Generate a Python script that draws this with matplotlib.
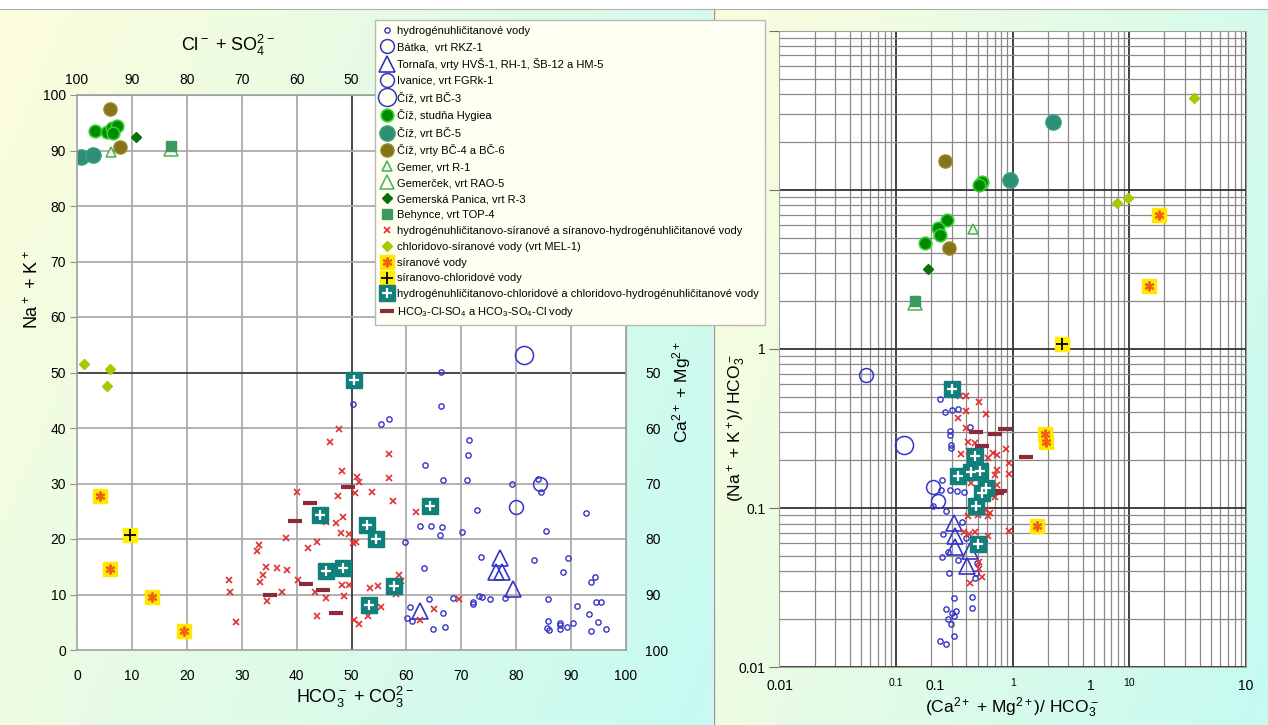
import numpy as np
import matplotlib.pyplot as plt
from matplotlib.lines import Line2D
from matplotlib.transforms import blended_transform_factory

plt.rcParams['font.family'] = ['Liberation Sans', 'DejaVu Sans']
plt.rcParams['mathtext.fontset'] = 'custom'
plt.rcParams['mathtext.rm'] = 'Liberation Sans'
plt.rcParams['mathtext.it'] = 'Liberation Sans:italic'

# ---- left diagram: x = HCO3 + CO3 (%), y = Na + K (%) ----
hco3_left = [(66.3, 50.1), (50.2, 44.4), (55.4, 40.8), (56.8, 41.6), (66.3, 44.0), (71.4, 37.8),
             (71.2, 35.2), (63.4, 33.3), (66.6, 30.6), (71.0, 30.6), (79.3, 30.0), (83.9, 30.8),
             (84.5, 28.4), (72.9, 25.2), (92.7, 24.7), (62.5, 22.4), (64.5, 22.4), (66.5, 22.2),
             (66.1, 20.8), (70.1, 21.2), (85.5, 21.5), (59.8, 19.5), (73.6, 16.7), (83.3, 16.2),
             (89.4, 16.5), (88.6, 14.1), (94.3, 13.1), (93.7, 12.3), (63.2, 14.7), (64.2, 9.2),
             (68.4, 9.4), (73.3, 9.8), (73.8, 9.6), (75.2, 9.1), (72.1, 8.6), (72.1, 8.2),
             (77.9, 9.4), (60.7, 7.7), (66.6, 6.7), (60.2, 5.7), (61.0, 5.3), (64.9, 3.7),
             (67.0, 4.2), (85.8, 9.1), (91.1, 8.0), (94.6, 8.6), (95.5, 8.6), (93.2, 6.4),
             (94.9, 5.1), (85.8, 5.3), (87.9, 4.8), (87.9, 4.5), (90.4, 4.8), (85.6, 3.9),
             (85.9, 3.6), (87.9, 3.8), (89.2, 4.1), (93.7, 3.5), (96.4, 3.7)]
batka_left = [(84.3, 30.0)]
tornala_left = [(77.0, 16.5), (76.3, 14.0), (77.5, 14.0), (79.5, 11.0), (62.5, 7.0)]
ivanice_left = [(79.9, 25.7)]
bc3_left = [(81.5, 53.2)]
hygiea_left = [(3.3, 93.6), (5.4, 93.4), (6.3, 94.0), (7.2, 94.4), (6.6, 93.1)]
bc5_left = [(0.8, 88.9), (3.0, 89.2)]
bc46_left = [(6.0, 97.4), (7.8, 90.7)]
gemer_left = [(6.2, 89.8)]
gemercek_left = [(17.1, 90.3)]
panica_left = [(10.7, 92.5)]
behynce_left = [(17.1, 90.8)]
so4mix_left = [(47.7, 39.9), (46.1, 37.4), (56.8, 35.3), (48.2, 32.3), (51.0, 31.2), (51.3, 30.3),
               (56.8, 31.0), (40.1, 28.5), (47.5, 27.8), (50.7, 28.2), (53.7, 28.5), (57.5, 26.9),
               (48.4, 24.0), (45.4, 23.0), (47.2, 22.8), (48.1, 21.0), (49.5, 20.9), (50.2, 19.2),
               (50.8, 19.4), (38.1, 20.1), (43.7, 19.5), (33.1, 19.0), (32.7, 17.9), (42.1, 18.3),
               (34.4, 14.9), (36.4, 14.7), (38.3, 14.5), (33.8, 13.6), (33.4, 12.3), (27.7, 12.6),
               (27.9, 10.4), (40.2, 12.6), (37.4, 10.4), (43.3, 10.4), (45.4, 9.4), (34.6, 8.9),
               (48.2, 11.7), (49.5, 11.7), (48.6, 9.8), (29.0, 5.1), (43.7, 6.2), (50.4, 5.4),
               (51.3, 4.6), (53.0, 6.1), (55.4, 7.7), (53.4, 11.2), (54.9, 11.5), (58.7, 13.5),
               (59.0, 12.5), (58.1, 10.1), (61.8, 24.8), (69.5, 9.1), (65.0, 7.4), (62.4, 5.4)]
clso4_left = [(1.3, 51.5), (6.0, 50.6), (5.4, 47.6)]
so4_left = [(4.1, 27.8), (6.0, 14.6), (13.6, 9.6), (19.5, 3.4)]
so4cl_left = [(9.6, 20.7)]
hco3cl_left = [(50.4, 48.6), (44.2, 24.4), (52.8, 22.5), (54.5, 20.0), (45.4, 14.2), (48.5, 14.8),
               (57.7, 11.5), (53.1, 8.1), (64.3, 25.9)]
mixed_left = [(49.3, 29.3), (42.4, 26.4), (39.7, 23.2), (41.8, 11.9), (44.8, 10.9), (35.1, 9.9),
              (47.1, 6.7)]

# ---- right diagram: x = (Ca + Mg)/HCO3, y = (Na + K)/HCO3 ----
hco3_right = [(0.236, 0.484), (0.262, 0.404), (0.301, 0.413), (0.341, 0.42), (0.29, 0.306),
              (0.29, 0.29), (0.427, 0.325), (0.295, 0.249), (0.297, 0.24), (0.245, 0.15),
              (0.244, 0.13), (0.292, 0.13), (0.331, 0.128), (0.379, 0.126), (0.209, 0.103),
              (0.267, 0.096), (0.365, 0.082), (0.25, 0.0687), (0.398, 0.0646), (0.563, 0.0624),
              (0.281, 0.0532), (0.246, 0.0495), (0.337, 0.0472), (0.49, 0.045), (0.485, 0.0393),
              (0.285, 0.0389), (0.47, 0.0362), (0.316, 0.0271), (0.451, 0.0275), (0.451, 0.0235),
              (0.27, 0.0231), (0.301, 0.022), (0.325, 0.0226), (0.312, 0.021), (0.277, 0.02),
              (0.295, 0.0187), (0.312, 0.0157), (0.236, 0.0146), (0.267, 0.014)]
batka_right = [(0.209, 0.136), (0.0557, 0.69)]
tornala_right = [(0.312, 0.081), (0.318, 0.0667), (0.318, 0.057), (0.427, 0.0537), (0.405, 0.0432)]
ivanice_right = [(0.23, 0.111)]
bc3_right = [(0.117, 0.249)]
hygiea_right = [(0.546, 11.2), (0.512, 10.8), (0.274, 6.46), (0.229, 5.77), (0.238, 5.17),
                (0.178, 4.65)]
bc5_right = [(2.20, 26.7), (0.946, 11.5)]
bc46_right = [(0.262, 15.2), (0.284, 4.29)]
gemer_right = [(0.452, 5.64)]
gemercek_right = [(0.145, 1.95)]
panica_right = [(0.189, 3.19)]
behynce_right = [(0.145, 2.0)]
so4mix_right = [(0.353, 0.506), (0.394, 0.506), (0.51, 0.464), (0.40, 0.409), (0.595, 0.39),
                (0.341, 0.367), (0.398, 0.317), (0.414, 0.261), (0.47, 0.257), (0.358, 0.219),
                (0.42, 0.229), (0.612, 0.208), (0.68, 0.221), (0.73, 0.215), (0.87, 0.235),
                (0.92, 0.193), (0.48, 0.19), (0.55, 0.182), (0.73, 0.173), (0.70, 0.161),
                (0.92, 0.164), (0.44, 0.143), (0.73, 0.14), (0.71, 0.118), (0.595, 0.097),
                (0.64, 0.0935), (0.414, 0.0895), (0.5, 0.091), (0.61, 0.0887), (0.379, 0.0711),
                (0.42, 0.0687), (0.47, 0.0711), (0.61, 0.0667), (0.92, 0.0718), (0.51, 0.0456),
                (0.51, 0.0413), (0.55, 0.0368), (0.427, 0.034)]
clso4_right = [(35.6, 37.5), (7.86, 8.28), (9.82, 8.91)]
so4_right = [(18.1, 6.94), (14.7, 2.48), (1.90, 0.292), (1.92, 0.262), (1.60, 0.0773)]
so4cl_right = [(2.67, 1.08)]
hco3cl_right = [(0.301, 0.557), (0.47, 0.212), (0.341, 0.16), (0.44, 0.168), (0.52, 0.172),
                (0.595, 0.133), (0.55, 0.125), (0.48, 0.103), (0.5, 0.0593)]
mixed_right = [(0.48, 0.299), (0.71, 0.291), (0.86, 0.316), (0.55, 0.246), (1.30, 0.21),
               (0.78, 0.129), (0.74, 0.124)]

left_ticks = list(range(0, 101, 10))
top_ticks = [100, 90, 80, 70, 60, 50]
right_ticks = [50, 60, 70, 80, 90, 100]
log_ticks = [0.01, 0.1, 1, 10, 100]

BLUE = '#3434c8'
styles = {
    'hco3': [dict(marker='o', ms=3.8, mfc='none', mec=BLUE, mew=1.0)],
    'batka': [dict(marker='o', ms=10, mfc='none', mec=BLUE, mew=1.1)],
    'tornala': [dict(marker='^', ms=11, mfc='none', mec=BLUE, mew=1.2)],
    'ivanice': [dict(marker='o', ms=10, mfc='none', mec=BLUE, mew=1.1)],
    'bc3': [dict(marker='o', ms=13, mfc='none', mec=BLUE, mew=1.1)],
    'hygiea': [dict(marker='o', ms=9, mfc='#008a00', mec='#33d033', mew=1.2)],
    'bc5': [dict(marker='o', ms=11, mfc='#2f8f76', mec='#3aa080', mew=1.0)],
    'bc46': [dict(marker='o', ms=9.5, mfc='#857518', mec='#9a8a30', mew=1.0)],
    'gemer': [dict(marker='^', ms=7.5, mfc='#eef8e8', mec='#4caf50', mew=1.1)],
    'gemercek': [dict(marker='^', ms=10, mfc='none', mec='#4caf50', mew=1.1)],
    'panica': [dict(marker='D', ms=5, mfc='#0a700a', mec='#0a700a')],
    'behynce': [dict(marker='s', ms=7.5, mfc='#3c9a60', mec='#3c9a60')],
    'so4mix': [dict(marker='x', ms=4, mec='#e03030', mew=1.2)],
    'clso4': [dict(marker='D', ms=5.5, mfc='#a8c800', mec='#a8c800')],
    'so4': [dict(marker='s', ms=9.5, mfc='#ffe800', mec='#ffe800'),
            dict(marker=(6, 2, 0), ms=7, mec='#f06010', mew=1.5)],
    'so4cl': [dict(marker='s', ms=10.5, mfc='#ffee00', mec='#ffee00'),
              dict(marker='+', ms=8, mec='black', mew=1.3)],
    'hco3cl': [dict(marker='s', ms=11, mfc='#12807a', mec='#12807a'),
               dict(marker='+', ms=7, mec='white', mew=1.6)],
    'mixed': [dict(marker='_', ms=10, mec='#8a2a3a', mew=3)],
}

labels = {
    'hco3': 'hydrogénuhličitanové vody',
    'batka': 'Bátka,  vrt RKZ-1',
    'tornala': 'Tornaľa, vrty HVŠ-1, RH-1, ŠB-12 a HM-5',
    'ivanice': 'Ivanice, vrt FGRk-1',
    'bc3': 'Číž, vrt BČ-3',
    'hygiea': 'Číž, studňa Hygiea',
    'bc5': 'Číž, vrt BČ-5',
    'bc46': 'Číž, vrty BČ-4 a BČ-6',
    'gemer': 'Gemer, vrt R-1',
    'gemercek': 'Gemerček, vrt RAO-5',
    'panica': 'Gemerská Panica, vrt R-3',
    'behynce': 'Behynce, vrt TOP-4',
    'so4mix': 'hydrogénuhličitanovo-síranové a síranovo-hydrogénuhličitanové vody',
    'clso4': 'chloridovo-síranové vody (vrt MEL-1)',
    'so4': 'síranové vody',
    'so4cl': 'síranovo-chloridové vody',
    'hco3cl': 'hydrogénuhličitanovo-chloridové a chloridovo-hydrogénuhličitanové vody',
    'mixed': 'HCO$_3$-Cl-SO$_4$ a HCO$_3$-SO$_4$-Cl vody',
}

left_data = {'hco3': hco3_left, 'batka': batka_left, 'tornala': tornala_left,
             'ivanice': ivanice_left, 'bc3': bc3_left, 'hygiea': hygiea_left, 'bc5': bc5_left,
             'bc46': bc46_left, 'gemer': gemer_left, 'gemercek': gemercek_left,
             'panica': panica_left, 'behynce': behynce_left, 'so4mix': so4mix_left,
             'clso4': clso4_left, 'so4': so4_left, 'so4cl': so4cl_left,
             'hco3cl': hco3cl_left, 'mixed': mixed_left}
right_data = {'hco3': hco3_right, 'batka': batka_right, 'tornala': tornala_right,
              'ivanice': ivanice_right, 'bc3': bc3_right, 'hygiea': hygiea_right,
              'bc5': bc5_right, 'bc46': bc46_right, 'gemer': gemer_right,
              'gemercek': gemercek_right, 'panica': panica_right, 'behynce': behynce_right,
              'so4mix': so4mix_right, 'clso4': clso4_right, 'so4': so4_right,
              'so4cl': so4cl_right, 'hco3cl': hco3cl_right, 'mixed': mixed_right}

draw_order = ['hco3', 'batka', 'tornala', 'ivanice', 'bc3', 'so4mix', 'mixed', 'hco3cl',
              'clso4', 'so4', 'so4cl', 'bc5', 'bc46', 'hygiea', 'gemercek', 'behynce',
              'gemer', 'panica']

W, H = 1268, 725
fig = plt.figure(figsize=(W / 100, H / 100), dpi=100)

# background gradient, two panels
yy, xx = np.mgrid[0:H, 0:W].astype(float)
c0 = np.array([253, 253, 220]) / 255
c1 = np.array([198, 250, 242]) / 255
img = np.ones((H, W, 3))
for x0, x1 in [(0, 713), (714, W)]:
    m = (xx >= x0) & (xx < x1)
    t = np.clip(0.72 * (xx - x0) / (x1 - x0) + 0.3 * yy / H, 0, 1)
    for k in range(3):
        img[..., k] = np.where(m, (1 - t) * c0[k] + t * c1[k], img[..., k])
img[:9] = 1.0
bg = fig.add_axes([0, 0, 1, 1], zorder=-1)
bg.imshow(img, extent=(0, W, H, 0), aspect='auto', interpolation='bilinear')
bg.plot([713.5, 713.5], [9, H], color='#9a9a9a', lw=1)
bg.plot([0, W], [9, 9], color='#b0b0b0', lw=0.8)
bg.set_xlim(0, W)
bg.set_ylim(H, 0)
bg.axis('off')


def draw(ax, key, pts):
    a = np.array(pts)
    for st in styles[key]:
        ax.plot(a[:, 0], a[:, 1], linestyle='none', **st)


# ---- left axes ----
ax1 = fig.add_axes([77 / W, 1 - 650 / H, 549 / W, 555 / H])
ax1.set_facecolor('white')
ax1.set_xlim(0, 100)
ax1.set_ylim(0, 100)
ax1.set_xticks(left_ticks)
ax1.set_yticks(left_ticks)
for v in left_ticks[1:-1]:
    c = '#3a3a3a' if v == 50 else '#ababab'
    ax1.axvline(v, color=c, lw=1.3, zorder=0.5)
    ax1.axhline(v, color=c, lw=1.3, zorder=0.5)
for s in ax1.spines.values():
    s.set_color('#a0a0a0')
    s.set_linewidth(1.2)
ax1.tick_params(axis='y', length=5, color='#909090', labelsize=10, pad=3)
ax1.tick_params(axis='x', length=0, labelsize=10, pad=14)
for key in draw_order:
    draw(ax1, key, left_data[key])

top = ax1.secondary_xaxis('top', functions=(lambda x: 100 - x, lambda x: 100 - x))
top.set_xticks(top_ticks)
top.tick_params(length=0, labelsize=10, pad=6)
top.spines['top'].set_color('#a0a0a0')
rgt = ax1.secondary_yaxis('right', functions=(lambda y: 100 - y, lambda y: 100 - y))
rgt.set_yticks(right_ticks)
rgt.tick_params(length=0, labelsize=10, pad=14)
rgt.spines['right'].set_color('#a0a0a0')

# ---- right axes ----
ax2 = fig.add_axes([779.5 / W, 1 - 667.3 / H, 466.5 / W, 636.6 / H])
ax2.set_facecolor('white')
ax2.set_xscale('log')
ax2.set_yscale('log')
ax2.set_xlim(0.01, 100)
ax2.set_ylim(0.01, 100)
ax2.grid(which='minor', color='#8a8a8a', lw=0.9, zorder=0.5)
ax2.grid(which='major', color='#333333', lw=1.3, zorder=0.6)
ax2.set_axisbelow(True)
for s in ax2.spines.values():
    s.set_color('#a0a0a0')
ax2.set_yticks(log_ticks)
ax2.set_yticklabels(['0.01', '0.1', '1', '', ''])
ax2.set_xticks(log_ticks)
ax2.set_xticklabels([])
ax2.tick_params(axis='y', which='major', length=7, color='#707070', labelsize=10, pad=3)
ax2.tick_params(axis='x', which='major', length=0)
ax2.tick_params(which='minor', length=0, labelleft=False, labelbottom=False)
for key in draw_order:
    draw(ax2, key, right_data[key])

tr = blended_transform_factory(ax2.transData, ax2.transAxes)
for v, lab in zip(10 ** np.linspace(-2, 2, 4), ['0.01', '0.1', '1', '10']):
    ax2.text(v, -0.029, lab, transform=tr, ha='center', va='center', fontsize=10)
for v, lab in zip(log_ticks[1:4], ['0.1', '1', '10']):
    ax2.text(v, -0.025, lab, transform=tr, ha='center', va='center', fontsize=7.5)

# ---- axis titles ----
fig.text(33 / W, 1 - 290 / H, 'Na$^+$ + K$^+$', rotation=90, ha='center', va='center', fontsize=13)
fig.text(228 / W, 1 - 45 / H, 'Cl$^-$ + SO$_4^{2-}$', ha='center', va='center', fontsize=13)
fig.text(355 / W, 1 - 697 / H, 'HCO$_3^-$ + CO$_3^{2-}$', ha='center', va='center', fontsize=13)
fig.text(682 / W, 1 - 392 / H, 'Ca$^{2+}$ + Mg$^{2+}$', rotation=90, ha='center', va='center',
         fontsize=12.5)
fig.text(737 / W, 1 - 428 / H, '(Na$^+$ + K$^+$)/ HCO$_3^-$', rotation=90, ha='center',
         va='center', fontsize=12.5)
fig.text(1012 / W, 1 - 708 / H, '(Ca$^{2+}$ + Mg$^{2+}$)/ HCO$_3^-$', ha='center', va='center',
         fontsize=12.5)

# ---- legend ----
order = ['hco3', 'batka', 'tornala', 'ivanice', 'bc3', 'hygiea', 'bc5', 'bc46', 'gemer',
         'gemercek', 'panica', 'behynce', 'so4mix', 'clso4', 'so4', 'so4cl', 'hco3cl', 'mixed']
handles = []
for key in order:
    parts = tuple(Line2D([], [], linestyle='none', **st) for st in styles[key])
    handles.append(parts if len(parts) > 1 else parts[0])
leg = fig.legend(handles, [labels[k] for k in order], loc='upper left',
                 bbox_to_anchor=(375 / W, 1 - 20 / H), fontsize=8, frameon=True,
                 fancybox=False, facecolor='#fffff2', edgecolor='#b8b8b8', framealpha=1,
                 labelspacing=0.53, handlelength=1.1, handletextpad=0.3, borderpad=0.55,
                 borderaxespad=0)

fig.savefig('out.png', dpi=100)
